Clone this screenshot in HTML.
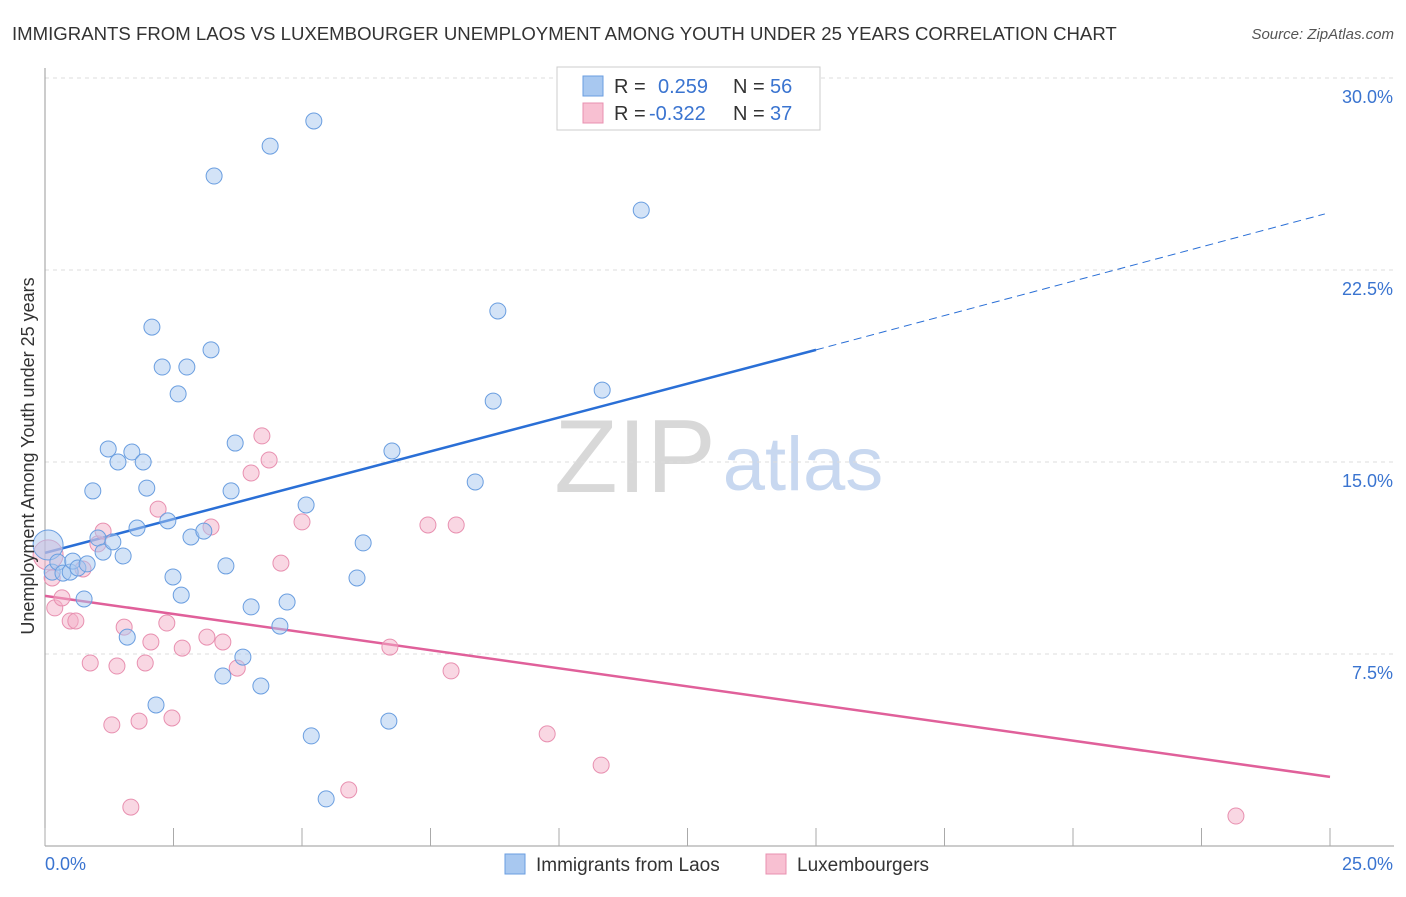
<!DOCTYPE html>
<html><head><meta charset="utf-8"><style>
body{margin:0;background:#fff;font-family:"Liberation Sans",sans-serif}
svg text{font-family:"Liberation Sans",sans-serif}
</style></head><body>
<svg id="chart" width="1406" height="892" xmlns="http://www.w3.org/2000/svg">
<text x="12" y="40" font-size="18.6" fill="#333">IMMIGRANTS FROM LAOS VS LUXEMBOURGER UNEMPLOYMENT AMONG YOUTH UNDER 25 YEARS CORRELATION CHART</text>
<text x="1394" y="39" font-size="15" fill="#555" font-style="italic" text-anchor="end">Source: ZipAtlas.com</text>
<g><text x="635" y="492" font-size="104" fill="#d8d8d8" font-family="Liberation Serif" text-anchor="middle">ZIP</text><text x="803" y="490" font-size="76" fill="#c8d8f0" text-anchor="middle">atlas</text></g>
<g id="grid"></g><g id="axes"></g><g id="lines"></g><g id="pts"></g>
<text transform="translate(34,456) rotate(-90)" font-size="18" fill="#333" text-anchor="middle">Unemployment Among Youth under 25 years</text>
<g>
<rect x="557" y="67" width="263" height="63" fill="#fff" stroke="#ccc"/>
<rect x="583" y="76" width="20" height="20" fill="#a8c8f0" stroke="#6a9ee0"/>
<rect x="583" y="103" width="20" height="20" fill="#f8c0d2" stroke="#e890b0"/>
<text x="614" y="93" font-size="20" fill="#333">R =<tspan x="658" fill="#3a74d0">0.259</tspan><tspan x="733">N =</tspan><tspan x="770" fill="#3a74d0">56</tspan></text>
<text x="614" y="120" font-size="20" fill="#333">R =<tspan x="649" fill="#3a74d0">-0.322</tspan><tspan x="733">N =</tspan><tspan x="770" fill="#3a74d0">37</tspan></text>
</g>
<g>
<rect x="505" y="854" width="20" height="20" fill="#a8c8f0" stroke="#6a9ee0"/>
<text x="536" y="871" font-size="19" fill="#333">Immigrants from Laos</text>
<rect x="766" y="854" width="20" height="20" fill="#f8c0d2" stroke="#e890b0"/>
<text x="797" y="871" font-size="19" fill="#333">Luxembourgers</text>
</g>
</svg>
<script>
const xTicks=[0,2.5,5,7.5,10,12.5,15,17.5,20,22.5,25];
const yTicks=[7.5,15,22.5,30];
const yTickLabels=["7.5%","15.0%","22.5%","30.0%"];
const blueX=[0.06,0.14,0.25,0.35,0.49,0.54,0.64,0.76,0.82,0.93,1.03,1.13,1.23,1.32,1.42,1.52,1.60,1.69,1.79,1.91,1.98,2.08,2.16,2.28,2.39,2.49,2.59,2.65,2.76,2.84,3.09,3.23,3.29,3.46,3.52,3.62,3.70,3.85,4.01,4.20,4.38,4.57,4.71,5.08,5.18,5.23,5.47,6.07,6.19,6.69,6.75,8.37,8.72,8.81,10.84,11.60];
const blueY=[11.76,10.70,11.09,10.66,10.70,11.13,10.86,9.65,11.02,13.87,12.03,11.48,15.51,11.88,15.00,11.33,8.16,15.39,12.42,15.00,13.98,20.27,5.51,18.71,12.70,10.51,17.66,9.80,18.71,12.07,12.30,19.38,26.17,6.64,10.94,13.87,15.74,7.38,9.34,6.25,27.34,8.59,9.53,13.32,4.30,28.32,1.84,10.47,11.84,4.88,15.43,14.22,17.38,20.90,17.81,24.84];
const pinkX=[0.06,0.14,0.19,0.33,0.49,0.60,0.74,0.88,1.03,1.13,1.30,1.40,1.54,1.67,1.83,1.95,2.06,2.20,2.37,2.47,2.67,3.15,3.23,3.46,3.74,4.01,4.22,4.36,4.59,5.00,5.91,6.71,7.45,7.90,8.00,9.77,10.82,23.17];
const pinkY=[11.37,10.47,9.30,9.69,8.79,8.79,10.82,7.15,11.80,12.30,4.73,7.03,8.55,1.52,4.88,7.15,7.97,13.16,8.71,5.00,7.73,8.16,12.46,7.97,6.95,14.57,16.02,15.08,11.05,12.66,2.19,7.77,12.54,6.84,12.54,4.38,3.16,1.17];
const blueTrend=[[0,11.45],[15,19.38],[24.9,24.69]];
const pinkTrend=[[0,9.77],[25,2.70]];
const NS="http://www.w3.org/2000/svg";
const X=v=>45+v*51.4, Y=v=>846-v*25.6;
function mk(tag,at,parent){const e=document.createElementNS(NS,tag);for(const k in at)e.setAttribute(k,at[k]);document.getElementById(parent).appendChild(e);return e;}
yTicks.forEach((t,i)=>{
 let l=mk('line',{x1:45,x2:1394,y1:Y(t),y2:Y(t),stroke:'#ddd','stroke-dasharray':'4,4'},'grid');
 
 
 let tx=mk('text',{x:1393,y:Y(t)+25,'font-size':18,fill:'#3a74d0','text-anchor':'end'},'grid');
 tx.textContent=yTickLabels[i];
 
 
});
let ax=mk('line',{x1:45,x2:1394,y1:846,y2:846,stroke:'#999'},'axes');


let ay=mk('line',{x1:45,x2:45,y1:68,y2:846,stroke:'#999'},'axes');


xTicks.forEach(t=>{let l=mk('line',{x1:X(t),x2:X(t),y1:828,y2:846,stroke:'#aaa'},'axes');
 
 });
let t0=mk('text',{x:45,y:870,'font-size':18,fill:'#3a74d0'},'axes');t0.textContent='0.0%';


let t1=mk('text',{x:1393,y:870,'font-size':18,fill:'#3a74d0','text-anchor':'end'},'axes');t1.textContent='25.0%';


function pts(xs,ys,fill,stroke,name){xs.forEach((x,i)=>{const c=mk('circle',{cx:X(x),cy:Y(ys[i]),r:i===0?15:8,fill:fill,'fill-opacity':0.5,stroke:stroke,'stroke-width':1},'pts');
 
 });}
pts(pinkX,pinkY,'#f4b0c8','#e890b0','luxembourgers-point');
pts(blueX,blueY,'#a8c8f0','#6a9ee0','laos-point');
let b1=mk('line',{x1:X(blueTrend[0][0]),y1:Y(blueTrend[0][1]),x2:X(blueTrend[1][0]),y2:Y(blueTrend[1][1]),stroke:'#2a6fd6','stroke-width':2.5},'lines');


let b2=mk('line',{x1:X(blueTrend[1][0]),y1:Y(blueTrend[1][1]),x2:X(blueTrend[2][0]),y2:Y(blueTrend[2][1]),stroke:'#2a6fd6','stroke-width':1,'stroke-dasharray':'8,5'},'lines');


let p1=mk('line',{x1:X(pinkTrend[0][0]),y1:Y(pinkTrend[0][1]),x2:X(pinkTrend[1][0]),y2:Y(pinkTrend[1][1]),stroke:'#e0609a','stroke-width':2.5},'lines');


</script>
</body></html>
